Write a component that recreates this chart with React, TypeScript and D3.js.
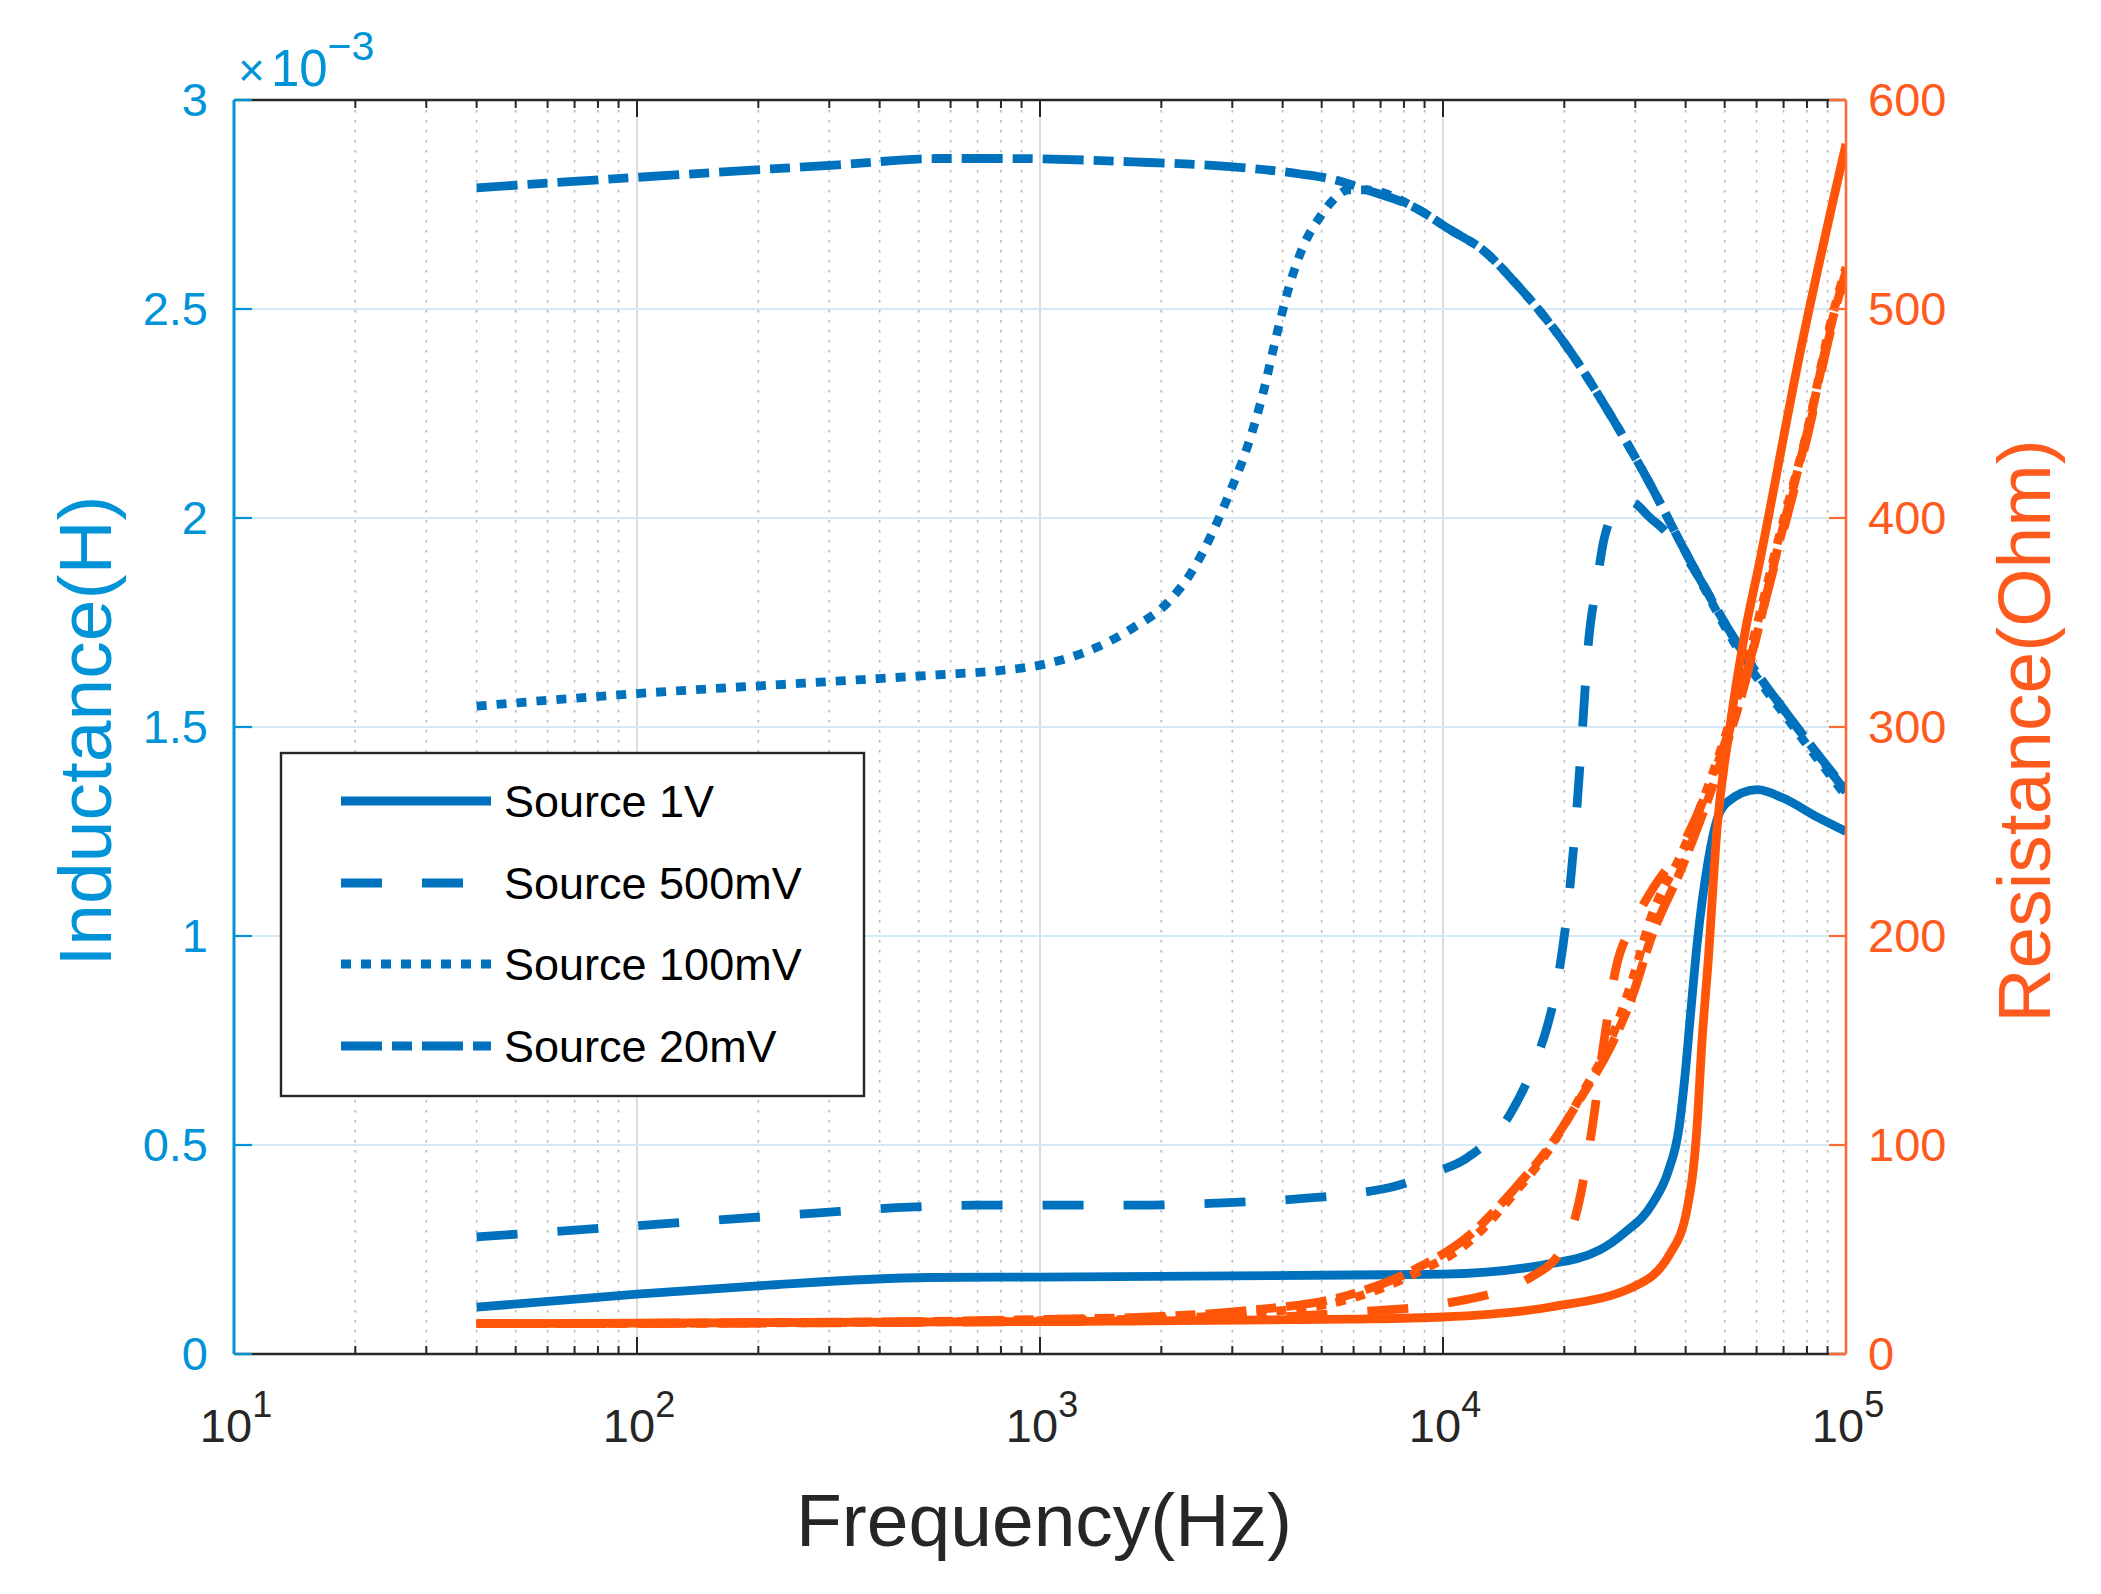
import React from "react";
import * as d3 from "d3";

// ---------- data (frequency in Hz, inductance in mH, resistance in Ohm) ----------
const seriesNames = ["Source 1V", "Source 500mV", "Source 100mV", "Source 20mV"];

const L_1V: [number, number][] = [
  [40, 0.112], [100, 0.143], [200, 0.163], [530, 0.183], [1000, 0.184], [5900, 0.189],
  [10000, 0.191], [17700, 0.213], [24500, 0.249], [28200, 0.29], [33100, 0.36],
  [36300, 0.44], [38500, 0.54], [39800, 0.66], [41200, 0.82], [42700, 0.98], [45500, 1.18],
  [47900, 1.28], [50700, 1.32], [60300, 1.35], [69800, 1.33], [84700, 1.285], [100000, 1.25],
];

const L_500mV: [number, number][] = [
  [40, 0.28], [111, 0.31], [277, 0.337], [440, 0.35], [692, 0.356], [1740, 0.356],
  [2750, 0.361], [4350, 0.371], [6120, 0.385], [7520, 0.4], [9440, 0.433], [11500, 0.47],
  [14700, 0.575], [17100, 0.71], [18100, 0.78], [19300, 0.9], [20700, 1.127],
  [21500, 1.31], [22200, 1.5], [22900, 1.69], [24100, 1.845], [25100, 1.95],
  [27500, 2.03], [29100, 2.04], [32700, 2.0], [35500, 1.97], [39800, 1.91],
  [53700, 1.7], [75500, 1.5], [100000, 1.345],
];

const L_100mV: [number, number][] = [
  [40, 1.55], [100, 1.58], [260, 1.605], [560, 1.625], [794, 1.635], [1000, 1.648],
  [1380, 1.69], [1700, 1.737], [2070, 1.797], [2400, 1.877], [2690, 1.969],
  [2960, 2.062], [3270, 2.17], [3580, 2.3], [3870, 2.44], [4170, 2.56], [4500, 2.65],
  [4950, 2.72], [5330, 2.76], [5820, 2.785], [6460, 2.785], [8610, 2.74],
  [10400, 2.69], [12600, 2.64], [15200, 2.56], [20300, 2.41], [25900, 2.25],
  [32700, 2.08], [39400, 1.93], [53700, 1.69], [75500, 1.49], [100000, 1.335],
];

const L_20mV: [number, number][] = [
  [40, 2.79], [100, 2.815], [316, 2.845], [562, 2.86], [828, 2.86], [1700, 2.852],
  [3010, 2.84], [4420, 2.823], [5330, 2.81], [6460, 2.785], [8610, 2.74],
  [10400, 2.69], [12600, 2.64], [15200, 2.56], [20300, 2.41], [25900, 2.25],
  [32700, 2.08], [39400, 1.93], [53700, 1.7], [75500, 1.5], [100000, 1.35],
];

const R_1V: [number, number][] = [
  [40, 14.5], [1000, 15.5], [5900, 16.7], [10000, 17.7], [18500, 22.5], [29600, 32],
  [36600, 48], [40300, 69], [42700, 109], [43900, 149], [45500, 188], [47900, 252],
  [51500, 300], [55500, 340], [61200, 380], [76900, 479], [100000, 579],
];

const R_500mV: [number, number][] = [
  [40, 14.5], [1000, 15.5], [3160, 17], [6000, 20], [10000, 24], [16600, 37],
  [20000, 52], [21400, 67], [23400, 107], [25100, 150], [26900, 185], [29500, 205],
  [33000, 222], [39400, 244], [47900, 282], [55600, 320], [62200, 356], [67600, 383],
  [81300, 444], [91200, 488], [100000, 514],
];

const R_100mV: [number, number][] = [
  [40, 14.5], [316, 15], [1000, 16], [2000, 17], [3160, 19], [6030, 27], [8610, 39],
  [11500, 53], [15200, 78], [18500, 99], [22200, 125], [25900, 149], [29600, 180],
  [32700, 208], [39400, 241], [47900, 284], [55600, 324], [62200, 360], [67600, 388],
  [81300, 447], [91200, 492], [100000, 520],
];

const R_20mV: [number, number][] = [
  [40, 14.5], [316, 15.2], [1000, 16.5], [2000, 18], [3160, 20.5], [6030, 29], [8610, 41],
  [11500, 56], [15200, 80], [18500, 100], [22200, 124], [25900, 146], [29600, 172],
  [32700, 198], [39400, 234], [47900, 278], [55600, 318], [62200, 356], [67600, 385],
  [81300, 446], [91200, 490], [100000, 518],
];

const xMajorExp = [1, 2, 3, 4, 5];
const yLeftTicks = [0, 0.5, 1, 1.5, 2, 2.5, 3];
const yRightTicks = [0, 100, 200, 300, 400, 500, 600];

// ---------- styles ----------
const BLUE = "#0072BD";
const ORANGE = "#FF5508";
const LEFT_AXIS = "#0093D8";
const RIGHT_AXIS = "#FF6A33";
const RIGHT_TEXT = "#FF5A1E";
const DARK = "#262626";
const FONT = "'Liberation Sans', Arial, Helvetica, sans-serif";
const dashes = ["", "41,40", "10,10", "41,10,20,10"];

const W = 2101;
const H = 1594;
const PL = 234, PR = 1846, PT = 100, PB = 1354;

export default function App() {
  const x = d3.scaleLog().domain([10, 1e5]).range([PL, PR]);
  const yL = d3.scaleLinear().domain([0, 3]).range([PB, PT]);
  const yR = d3.scaleLinear().domain([0, 600]).range([PB, PT]);

  const lineL = d3.line<[number, number]>().x((d) => x(d[0])).y((d) => yL(d[1])).curve(d3.curveMonotoneX);
  const lineR = d3.line<[number, number]>().x((d) => x(d[0])).y((d) => yR(d[1])).curve(d3.curveMonotoneX);

  const Ls = [L_1V, L_500mV, L_100mV, L_20mV];
  const Rs = [R_1V, R_500mV, R_100mV, R_20mV];

  const minor: number[] = [];
  for (let e = 1; e < 5; e++) for (let m = 2; m <= 9; m++) minor.push(m * Math.pow(10, e));
  const majors = xMajorExp.map((e) => Math.pow(10, e));

  const legendRowsY = [801, 883, 964, 1046];

  return (
    <svg width={W} height={H} style={{ position: "absolute", left: 0, top: 0, background: "#fff" }}
      fontFamily={FONT}>
      <rect x={0} y={0} width={W} height={H} fill="#fff" />
      <defs>
        <clipPath id="plotclip">
          <rect x={PL} y={PT} width={PR - PL} height={PB - PT} />
        </clipPath>
      </defs>

      {/* grid */}
      {minor.map((f, i) => (
        <line key={"mg" + i} x1={x(f)} x2={x(f)} y1={PT} y2={PB} stroke="#B8B8B8" strokeWidth={1.6} strokeDasharray="2.5,7.5" />
      ))}
      {majors.slice(1, 4).map((f, i) => (
        <line key={"Mg" + i} x1={x(f)} x2={x(f)} y1={PT} y2={PB} stroke="#DCDCDC" strokeWidth={2} />
      ))}
      {yLeftTicks.slice(1, 6).map((v, i) => (
        <line key={"hg" + i} x1={PL} x2={PR} y1={yL(v)} y2={yL(v)} stroke="#D3E9F6" strokeWidth={2.2} />
      ))}

      {/* data */}
      <g clipPath="url(#plotclip)" fill="none" strokeWidth={8.8} strokeLinecap="butt" strokeLinejoin="round">
        {Ls.map((d, i) => (
          <path key={"L" + i} d={lineL(d) || ""} stroke={BLUE} strokeDasharray={dashes[i] || undefined} />
        ))}
        {Rs.map((d, i) => (
          <path key={"R" + i} d={lineR(d) || ""} stroke={ORANGE} strokeDasharray={dashes[i] || undefined} />
        ))}
      </g>

      {/* x axes (bottom & top) */}
      <line x1={PL} x2={PR} y1={PB} y2={PB} stroke={DARK} strokeWidth={2.6} />
      <line x1={PL} x2={PR} y1={PT} y2={PT} stroke={DARK} strokeWidth={2.6} />
      {minor.map((f, i) => (
        <g key={"mt" + i} stroke={DARK} strokeWidth={2}>
          <line x1={x(f)} x2={x(f)} y1={PB} y2={PB - 8} />
          <line x1={x(f)} x2={x(f)} y1={PT} y2={PT + 8} />
        </g>
      ))}
      {majors.map((f, i) => (
        <g key={"Mt" + i} stroke={DARK} strokeWidth={2}>
          <line x1={x(f)} x2={x(f)} y1={PB} y2={PB - 17} />
          <line x1={x(f)} x2={x(f)} y1={PT} y2={PT + 17} />
        </g>
      ))}
      {xMajorExp.map((e, i) => (
        <text key={"xl" + i} x={x(Math.pow(10, e)) + 2} y={1442} textAnchor="middle" fontSize={47} fill={DARK}>
          10<tspan fontSize={36} dy={-25}>{e}</tspan>
        </text>
      ))}

      {/* left axis */}
      <line x1={PL} x2={PL} y1={PT} y2={PB} stroke={LEFT_AXIS} strokeWidth={3} />
      {yLeftTicks.map((v, i) => (
        <g key={"yl" + i}>
          <line x1={PL} x2={PL + 18} y1={yL(v)} y2={yL(v)} stroke={LEFT_AXIS} strokeWidth={2.2} />
          <text x={208} y={yL(v)} dy="0.35em" textAnchor="end" fontSize={47} fill={LEFT_AXIS}>{v}</text>
        </g>
      ))}
      <text x={238} y={86} fontSize={46} fill={LEFT_AXIS}>
        ×<tspan fontSize={51} dx={6}>10</tspan><tspan fontSize={41} dy={-26}>−3</tspan>
      </text>

      {/* right axis */}
      <line x1={PR} x2={PR} y1={PT} y2={PB} stroke={RIGHT_AXIS} strokeWidth={2.6} />
      {yRightTicks.map((v, i) => (
        <g key={"yr" + i}>
          <line x1={PR} x2={PR - 17} y1={yR(v)} y2={yR(v)} stroke={RIGHT_AXIS} strokeWidth={2.2} />
          <text x={1868} y={yR(v)} dy="0.35em" textAnchor="start" fontSize={47} fill={RIGHT_TEXT}>{v}</text>
        </g>
      ))}

      {/* axis labels */}
      <text x={1044} y={1546} textAnchor="middle" fontSize={75} fill={DARK}>Frequency(Hz)</text>
      <text transform="translate(111,731) rotate(-90)" textAnchor="middle" fontSize={75} fill={LEFT_AXIS}>Inductance(H)</text>
      <text transform="translate(2050,731) rotate(-90)" textAnchor="middle" fontSize={75} fill={RIGHT_TEXT}>Resistance(Ohm)</text>

      {/* legend */}
      <rect x={281} y={753} width={583} height={343} fill="#fff" stroke={DARK} strokeWidth={2.4} />
      {seriesNames.map((name, i) => (
        <g key={"lg" + i}>
          <line x1={341} x2={491} y1={legendRowsY[i]} y2={legendRowsY[i]} stroke={BLUE} strokeWidth={9}
            strokeDasharray={dashes[i] || undefined} />
          <text x={504} y={legendRowsY[i]} dy="0.36em" fontSize={45} fill="#000">{name}</text>
        </g>
      ))}
    </svg>
  );
}
